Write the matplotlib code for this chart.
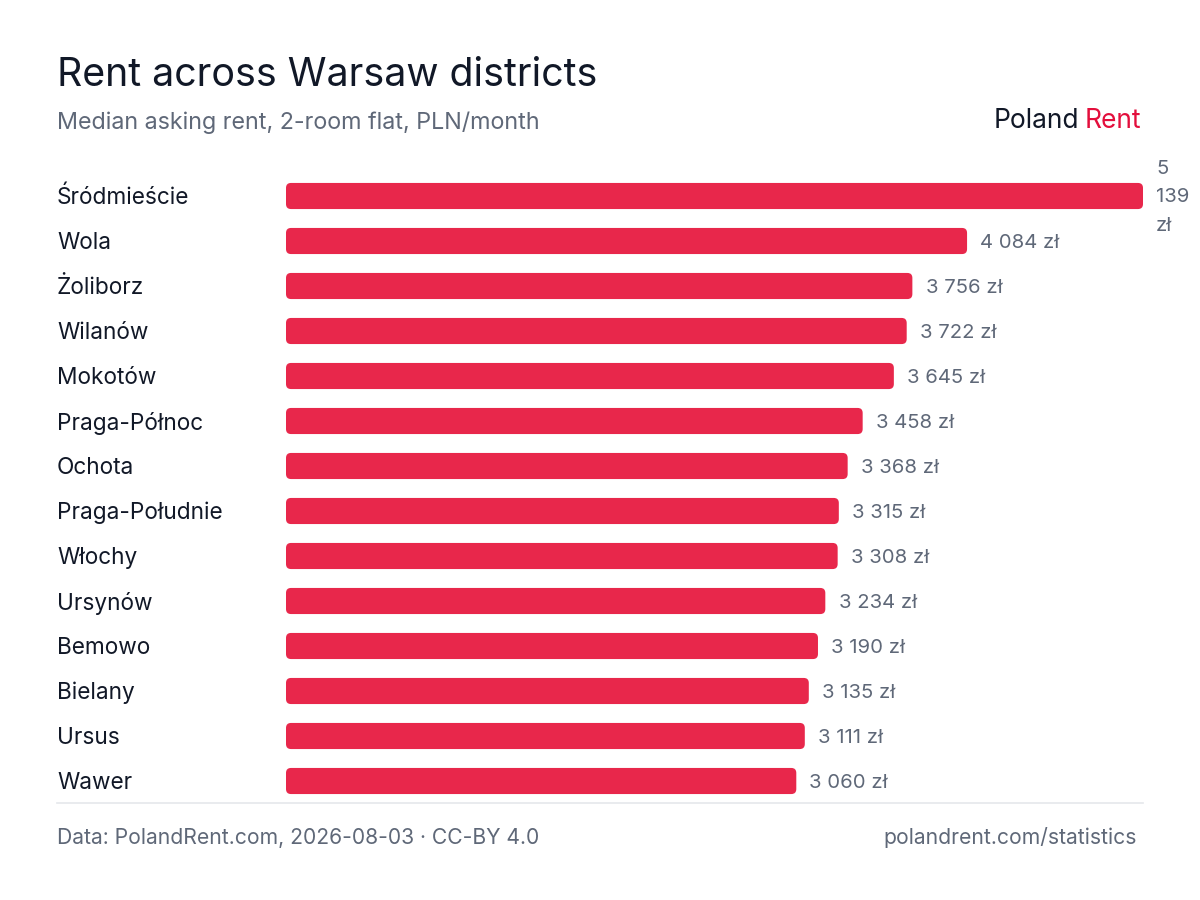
import matplotlib
matplotlib.use("Agg")
import matplotlib.pyplot as plt
from matplotlib.patches import FancyBboxPatch
from matplotlib import transforms
from matplotlib.lines import Line2D

districts = ["Śródmieście", "Wola", "Żoliborz", "Wilanów", "Mokotów", "Praga-Północ",
             "Ochota", "Praga-Południe", "Włochy", "Ursynów", "Bemowo", "Bielany",
             "Ursus", "Wawer"]
rent = [5139, 4084, 3756, 3722, 3645, 3458, 3368, 3315, 3308, 3234, 3190, 3135, 3111, 3060]
value_labels = ["5\n139\nzł", "4 084 zł", "3 756 zł", "3 722 zł", "3 645 zł", "3 458 zł",
                "3 368 zł", "3 315 zł", "3 308 zł", "3 234 zł", "3 190 zł", "3 135 zł",
                "3 111 zł", "3 060 zł"]

title = "Rent across Warsaw districts"
subtitle = "Median asking rent, 2-room flat, PLN/month"
footer_left = "Data: PolandRent.com, 2026-08-03 · CC-BY 4.0"
footer_right = "polandrent.com/statistics"

plt.rcParams['font.family'] = ['Inter', 'DejaVu Sans']

BAR = "#e8274b"
DARK = "#111827"
GRAY = "#5f6878"

W, H = 1200, 900
fig = plt.figure(figsize=(12, 9), dpi=100)
fig.patch.set_facecolor("white")

left, right = 286 / W, 1143 / W
top_px, bot_px = 173.5, 803.5
ax = fig.add_axes([left, 1 - bot_px / H, right - left, (bot_px - top_px) / H])
n = len(districts)
ypos = list(range(n))
bars = ax.barh(ypos, rent, height=0.58, color=BAR)
ax.set_xlim(0, max(rent))
ax.set_ylim(n - 0.5, -0.5)
ax.axis("off")

# rounded bars
x_per_px = max(rent) / (1143 - 286)
y_per_px = n / (bot_px - top_px)
for r in bars:
    x0, y0, w, h = r.get_x(), r.get_y(), r.get_width(), r.get_height()
    p = FancyBboxPatch((x0, y0), w, h,
                       boxstyle=f"round,pad=0,rounding_size={5 * x_per_px}",
                       mutation_aspect=y_per_px / x_per_px,
                       facecolor=BAR, edgecolor="none", clip_on=False)
    ax.add_patch(p)
    r.set_visible(False)

# category labels
trans = transforms.blended_transform_factory(fig.transFigure, ax.transData)
trans = transforms.offset_copy(trans, fig=fig, x=0, y=-2, units="dots")
for y, name in zip(ypos, districts):
    ax.text(57 / W, y, name, transform=trans, ha="left", va="center",
            fontsize=16.3, color=DARK)

# value labels
for y, v, lab in zip(ypos, rent, value_labels):
    multi = "\n" in lab
    ax.annotate(lab, (v, y), xytext=(9.5, -1.5 if not multi else -1.0),
                textcoords="offset points",
                ha="left", va="center", fontsize=14.6, color=GRAY,
                linespacing=1.75, annotation_clip=False)

# titles
fig.text(57 / W, 1 - 75 / H, title, ha="left", va="center", fontsize=28.3, color=DARK)
fig.text(57 / W, 1 - 123 / H, subtitle, ha="left", va="center", fontsize=16.8, color=GRAY)

# logo
t_rent = fig.text(1141 / W, 1 - 121 / H, "Rent", ha="right", va="center",
                  fontsize=19, color="#e30e3c")
fig.canvas.draw()
bb = t_rent.get_window_extent()
fig.text((bb.x0 - 5) / W, 1 - 121 / H, "Poland", ha="right", va="center",
         fontsize=19, color=DARK)

# separator
fig.add_artist(Line2D([57 / W, 1143 / W], [1 - 803 / H, 1 - 803 / H],
                      transform=fig.transFigure, color="#e5e7eb", lw=1.2))

# footer
fig.text(57 / W, 1 - 838 / H, footer_left, ha="left", va="center", fontsize=15.2, color=GRAY)
fig.text(1137 / W, 1 - 838 / H, footer_right, ha="right", va="center", fontsize=15.2, color=GRAY)

fig.savefig("out.png", dpi=100, facecolor="white")
